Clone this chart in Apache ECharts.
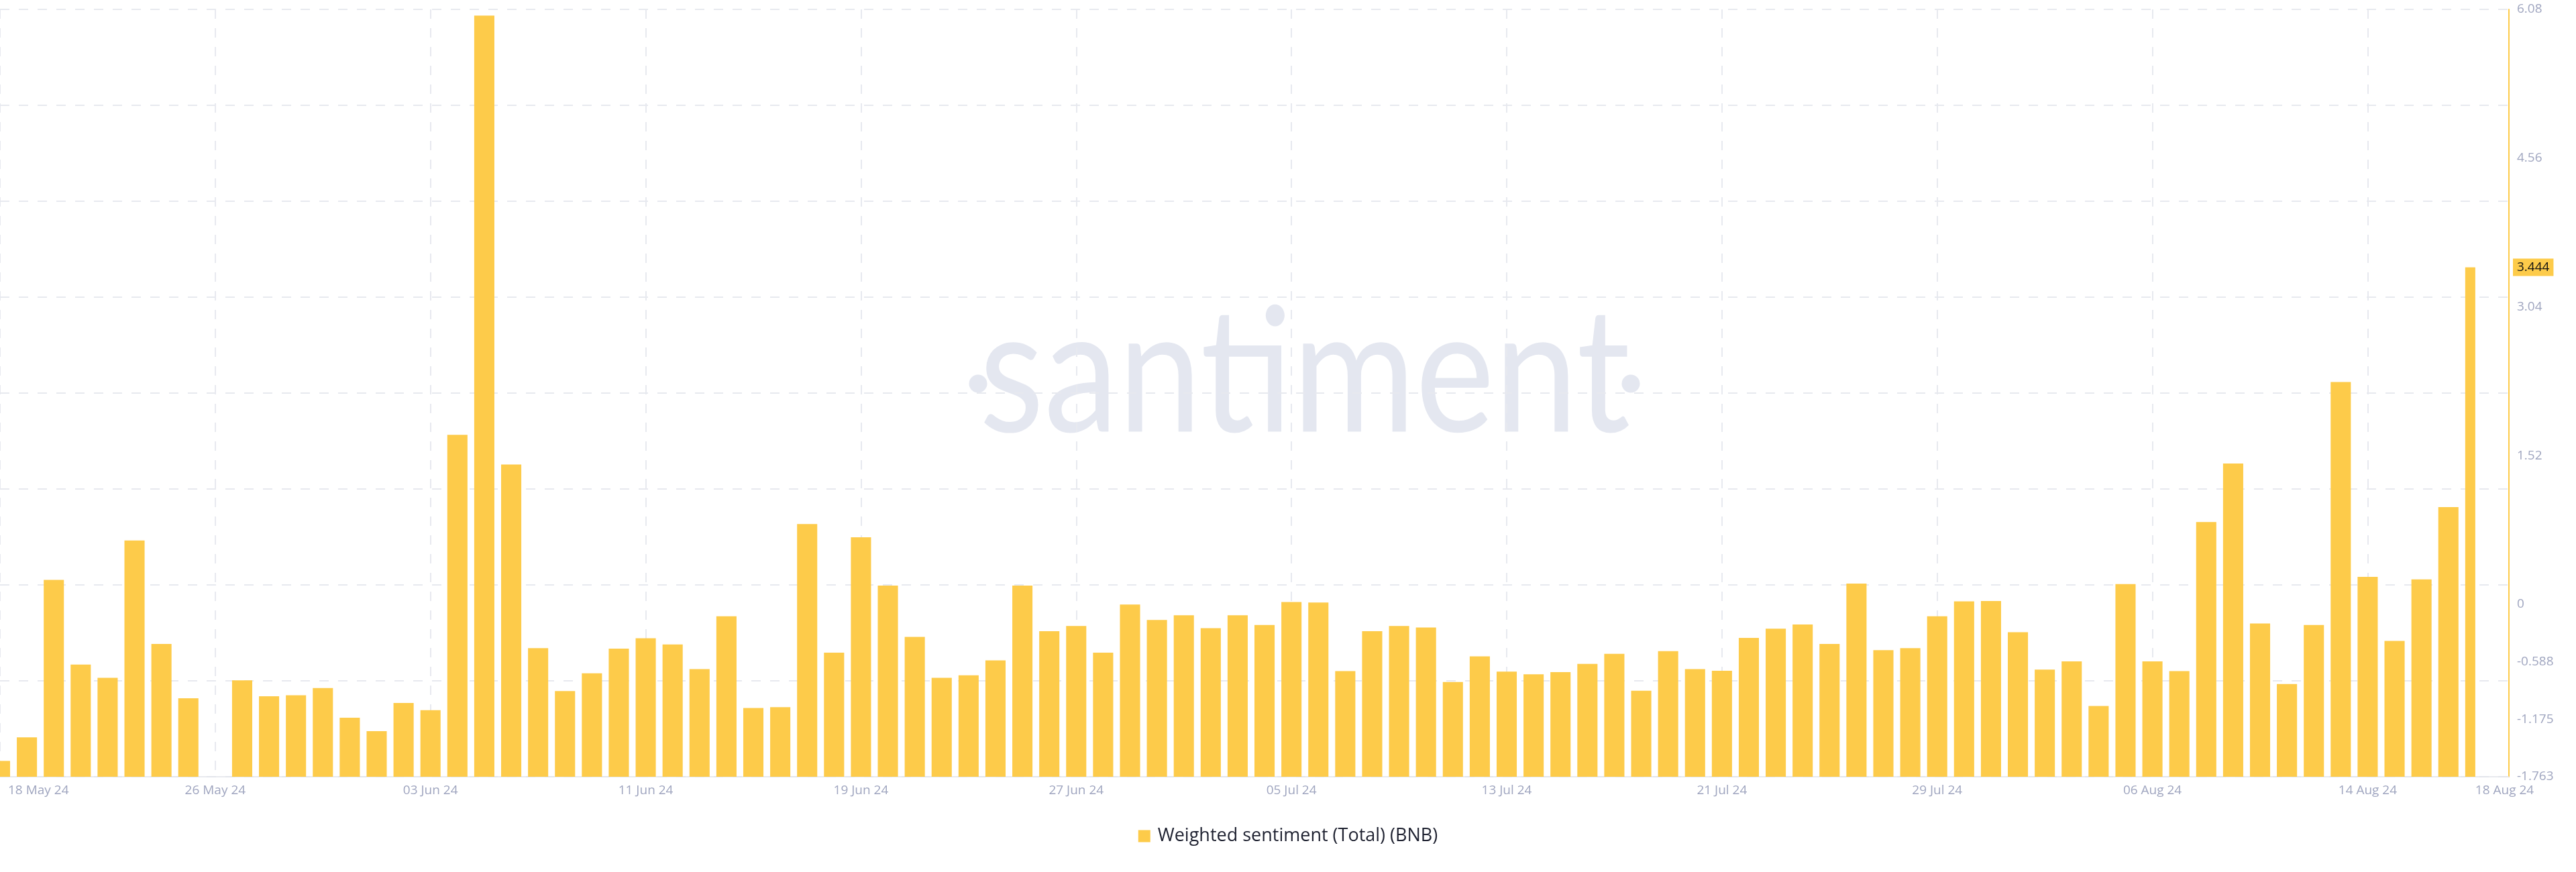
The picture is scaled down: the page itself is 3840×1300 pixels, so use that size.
<!DOCTYPE html>
<html>
<head>
<meta charset="utf-8">
<script src="https://cdn.jsdelivr.net/npm/echarts@6/dist/echarts.min.js"></script>
<style>
html,body{margin:0;padding:0;background:#ffffff;}
#chart{width:3840px;height:1300px;}
</style>
</head>
<body>
<div id="chart"></div>
<script>
const dates = [
  '18 May 24','19 May 24','20 May 24','21 May 24','22 May 24','23 May 24','24 May 24','25 May 24','26 May 24','27 May 24','28 May 24','29 May 24','30 May 24','31 May 24',
  '01 Jun 24','02 Jun 24','03 Jun 24','04 Jun 24','05 Jun 24','06 Jun 24','07 Jun 24','08 Jun 24','09 Jun 24','10 Jun 24','11 Jun 24','12 Jun 24','13 Jun 24','14 Jun 24','15 Jun 24','16 Jun 24','17 Jun 24','18 Jun 24','19 Jun 24','20 Jun 24','21 Jun 24','22 Jun 24','23 Jun 24','24 Jun 24','25 Jun 24','26 Jun 24','27 Jun 24','28 Jun 24','29 Jun 24','30 Jun 24',
  '01 Jul 24','02 Jul 24','03 Jul 24','04 Jul 24','05 Jul 24','06 Jul 24','07 Jul 24','08 Jul 24','09 Jul 24','10 Jul 24','11 Jul 24','12 Jul 24','13 Jul 24','14 Jul 24','15 Jul 24','16 Jul 24','17 Jul 24','18 Jul 24','19 Jul 24','20 Jul 24','21 Jul 24','22 Jul 24','23 Jul 24','24 Jul 24','25 Jul 24','26 Jul 24','27 Jul 24','28 Jul 24','29 Jul 24','30 Jul 24','31 Jul 24',
  '01 Aug 24','02 Aug 24','03 Aug 24','04 Aug 24','05 Aug 24','06 Aug 24','07 Aug 24','08 Aug 24','09 Aug 24','10 Aug 24','11 Aug 24','12 Aug 24','13 Aug 24','14 Aug 24','15 Aug 24','16 Aug 24','17 Aug 24','18 Aug 24'
];

const sentiment = [
  -1.601, -1.360, 0.249, -0.616, -0.752, 0.652, -0.406, -0.961, -1.763, -0.778,
  -0.940, -0.930, -0.857, -1.160, -1.297, -1.009, -1.082, 1.731, 6.017, 1.428,
  -0.448, -0.888, -0.705, -0.453, -0.348, -0.411, -0.663, -0.123, -1.061, -1.051,
  0.820, -0.495, 0.684, 0.191, -0.333, -0.752, -0.726, -0.574, 0.191, -0.275,
  -0.223, -0.495, -0.003, -0.160, -0.113, -0.244, -0.113, -0.212, 0.023, 0.018,
  -0.684, -0.275, -0.223, -0.238, -0.794, -0.532, -0.689, -0.715, -0.694, -0.610,
  -0.506, -0.883, -0.479, -0.663, -0.679, -0.343, -0.249, -0.207, -0.406, 0.212,
  -0.469, -0.448, -0.123, 0.029, 0.034, -0.286, -0.668, -0.584, -1.040, 0.207,
  -0.584, -0.684, 0.841, 1.438, -0.197, -0.815, -0.212, 2.271, 0.280, -0.375,
  0.254, 0.993, 3.444
];

const yTicks = [-1.763, -1.175, -0.588, 0, 1.52, 3.04, 4.56, 6.08];
const xLabelIdx = [0, 8, 16, 24, 32, 40, 48, 56, 64, 72, 80, 88, 92];
const seriesName = 'Weighted sentiment (Total) (BNB)';

const BAR = '#fdcb4a';
const LABEL = '#9fa5bf';
const GRIDC = '#e7e9ef';
const yMin = yTicks[0];
const yMax = yTicks[yTicks.length - 1];
const lastIdx = sentiment.length - 1;

const chart = echarts.init(document.getElementById('chart'));

const barData = sentiment.map((v, i) => [i, v]);

chart.setOption({
  animation: false,
  backgroundColor: '#ffffff',
  grid: { left: 0, right: 100, top: 14, bottom: 142, containLabel: false },
  graphic: [
    {
      type: 'group', silent: true, z: 1,
      children: [
        { type: 'text', x: 1945, y: 560, scaleX: 0.86,
          style: { text: 'santiment', x: 0, y: 0, align: 'center', verticalAlign: 'middle',
                   fontFamily: 'Lato', fontSize: 259, fill: '#e4e7f0' } },
        { type: 'circle', shape: { cx: 1458, cy: 572, r: 13.5 }, style: { fill: '#e4e7f0' } },
        { type: 'circle', shape: { cx: 2431, cy: 572, r: 13.5 }, style: { fill: '#e4e7f0' } }
      ]
    }
  ],
  legend: {
    bottom: 40,
    left: 'center',
    padding: 0,
    itemWidth: 18,
    itemHeight: 18,
    data: [{ name: seriesName, icon: 'rect' }],
    textStyle: { fontFamily: 'Open Sans', fontSize: 27, color: '#1e2130', padding: [0, 0, 0, 6] }
  },
  xAxis: {
    type: 'value',
    min: 0,
    max: 93.25,
    interval: 8,
    axisLine: { show: true, onZero: false, lineStyle: { color: '#e1e3ea', width: 1.5 } },
    axisTick: { show: false },
    splitLine: { show: true, lineStyle: { color: GRIDC, width: 2, type: [14, 14] } },
    axisLabel: {
      customValues: xLabelIdx,
      margin: 11,
      color: LABEL,
      fontFamily: 'Open Sans',
      fontSize: 19,
      alignMinLabel: 'left',
      alignMaxLabel: 'left',
      formatter: function (v) {
        const t = dates[Math.round(v)];
        return Math.round(v) === 0 ? '{f|' + t + '}' : t;
      },
      rich: { f: { padding: [0, 0, 0, 12], color: LABEL, fontFamily: 'Open Sans', fontSize: 19 } }
    }
  },
  yAxis: [
    {
      type: 'value',
      position: 'right',
      min: yMin,
      max: yMax,
      axisLine: { show: true, onZero: false, lineStyle: { color: BAR, width: 2 } },
      axisTick: { show: false },
      splitLine: { show: false },
      axisLabel: {
        customValues: yTicks,
        margin: 12,
        color: LABEL,
        fontFamily: 'Open Sans',
        fontSize: 19,
        formatter: function (v) { return String(v); }
      }
    },
    {
      type: 'value',
      position: 'left',
      min: 0,
      max: 8,
      interval: 1,
      axisLine: { show: false },
      axisTick: { show: false },
      axisLabel: { show: false },
      splitLine: { show: true, lineStyle: { color: GRIDC, width: 2, type: [14, 14] } }
    }
  ],
  series: [
    {
      name: seriesName,
      type: 'custom',
      xAxisIndex: 0,
      yAxisIndex: 0,
      clip: true,
      z: 5,
      itemStyle: { color: BAR },
      data: barData,
      encode: { x: 0, y: 1 },
      renderItem: function (params, api) {
        const i = api.value(0);
        const v = api.value(1);
        const top = api.coord([i, v]);
        const base = api.coord([i, yMin]);
        const bw = api.size([1, 0])[0] * 0.75;
        const leftLimit = api.coord([0, yMin])[0];
        const rightLimit = api.coord([lastIdx, yMin])[0];
        const x0 = Math.max(top[0] - bw / 2, leftLimit);
        const x1 = Math.min(top[0] + bw / 2, rightLimit);
        return {
          type: 'rect',
          shape: { x: x0, y: top[1], width: Math.max(0, x1 - x0), height: base[1] - top[1] },
          style: { fill: BAR }
        };
      }
    },
    {
      name: 'last-value',
      type: 'line',
      xAxisIndex: 0,
      yAxisIndex: 0,
      data: [[lastIdx, sentiment[lastIdx]]],
      showSymbol: false,
      symbolSize: 0,
      lineStyle: { width: 0 },
      silent: true,
      z: 10,
      markLine: {
        silent: true,
        symbol: 'none',
        animation: false,
        precision: 3,
        lineStyle: { color: 'rgba(0,0,0,0)', width: 0, type: 'solid' },
        label: {
          show: true,
          position: 'end',
          distance: 6,
          formatter: function () { return String(sentiment[lastIdx]); },
          backgroundColor: BAR,
          color: '#111111',
          padding: [4, 6, 3, 6],
          fontFamily: 'Open Sans',
          fontSize: 19
        },
        data: [{ yAxis: sentiment[lastIdx] }]
      }
    }
  ]
});
</script>
</body>
</html>
